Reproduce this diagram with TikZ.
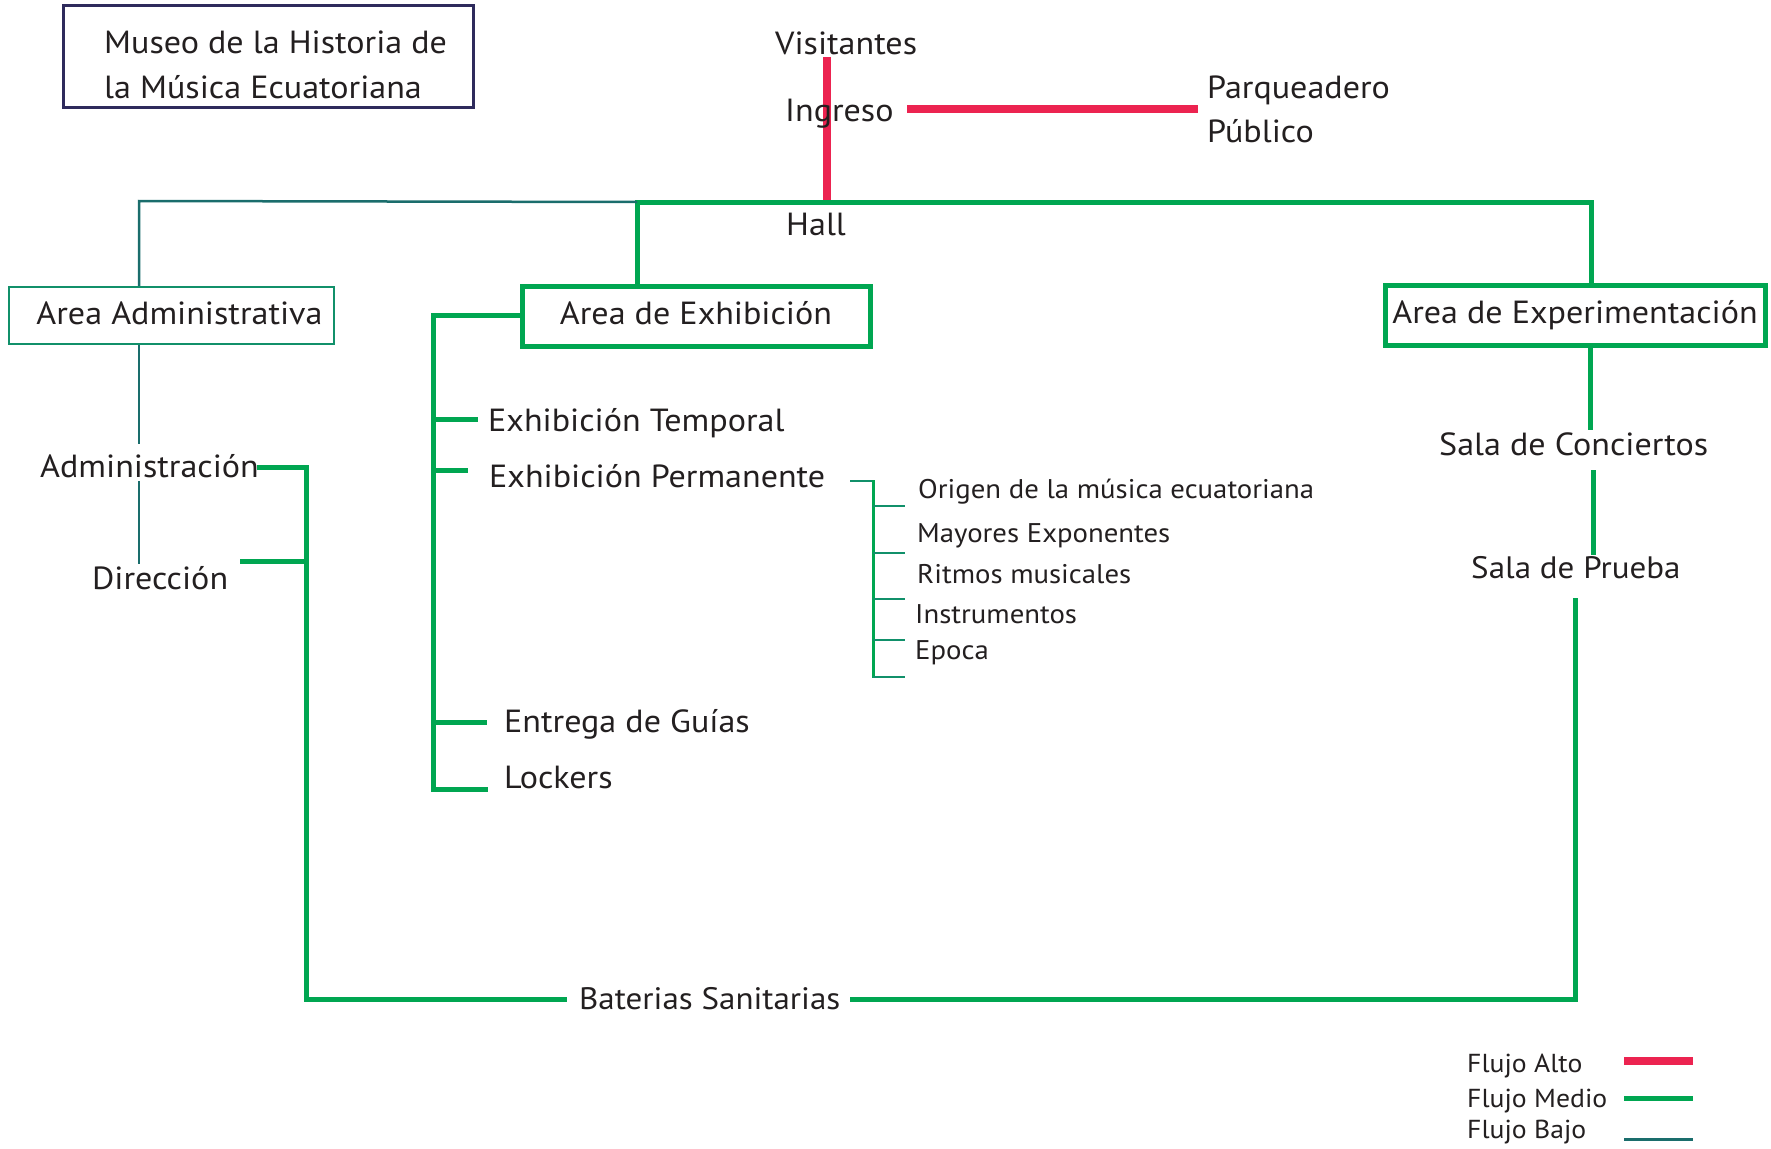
\documentclass[tikz,border=0pt]{standalone}
\usepackage{fontspec}
\setmainfont{PT Sans}[FakeStretch=1.065]
\definecolor{alto}{HTML}{EC2350}
\definecolor{medio}{HTML}{00A651}
\definecolor{bajo}{HTML}{1A6D6C}
\definecolor{subg}{HTML}{11906A}
\definecolor{navy}{HTML}{2E2A5C}
\definecolor{textc}{HTML}{231F20}
\begin{document}
\begin{tikzpicture}[x=1pt,y=-1pt,
  txt/.style={inner sep=0pt,anchor=base west,text=textc,font=\fontsize{32}{38}\selectfont},
  narrowtxt/.style={txt,font=\fontsize{31}{37}\selectfont},
  smalltxt/.style={txt,font=\fontsize{27}{32}\selectfont},
  legtxt/.style={txt,font=\fontsize{26}{30}\selectfont},
  areabox/.style={draw,inner sep=0pt,text height=23pt,text depth=6pt,text=textc,font=\fontsize{32}{38}\selectfont},
  flalto/.style={draw=alto,line width=8pt},
  flmedio/.style={draw=medio,line width=5pt},
  flbajo/.style={draw=bajo,line width=2.5pt},
  flsub/.style={draw=subg,line width=2.5pt}]
\useasboundingbox (0,0) rectangle (1771,1148);
% title
\node[draw=navy,line width=2.5pt,minimum width=410pt,minimum height=102pt,inner sep=0pt] (title) at (268.5,56.5) {};
\node[txt] (t1) at (104,53) {Museo de la Historia de};
\node[txt] (t2) at (104,98) {la Música Ecuatoriana};
% top texts
\node[txt] (vis) at (775,55) {Visitantes};
\node[txt] (parq1) at (1207,98) {Parqueadero};
\node[txt] (parq2) at (1207,142) {Público};
\node[txt] (hall) at (786,235) {Hall};
% coordinates for flows
\coordinate (rtop) at (827,57);
\coordinate (rbot) at (827,200);
\coordinate (hL) at (637,202);
\coordinate (hR) at (1591,202);
\coordinate (tL) at (139,201);
% red flow
\draw[flalto] (rtop) -- (rbot);
\draw[flalto] (907,109) coordinate (ingE) -- (1198,109) coordinate (parqW);
\node[txt] (ingreso) at (785,121) {Ingreso};
% boxes
\node[areabox,draw=subg,line width=2.5pt,minimum width=325pt,minimum height=57pt] (adm) at (171.5,315.5) {\hspace*{16pt}Area Administrativa};
\node[areabox,draw=medio,line width=5pt,minimum width=348pt,minimum height=60pt] (exh) at (696,316) {Area de Exhibición};
\node[areabox,draw=medio,line width=5pt,minimum width=380pt,minimum height=60pt] (exp) at (1575,315) {Area de Experimentación};
% hall connections
\draw[flmedio] (exh.north -| hL) -- (hL) -- (hR) -- (exp.north -| hR);
\draw[flbajo] (adm.north -| tL) -- (tL) -- (hL);
% administrative
\node[txt] (admin) at (40,477) {Administración};
\node[txt] (dir) at (92,589) {Dirección};
\draw[flbajo] (adm.south -| tL) -- (139,444) coordinate (a1);
\draw[flbajo] (139,481) coordinate (a2) -- (139,564) coordinate (a3);
% exhibition
\node[txt] (et) at (488,431) {Exhibición Temporal};
\node[txt] (ep) at (489,487) {Exhibición Permanente};
\node[txt] (eg) at (504,732) {Entrega de Guías};
\node[txt] (lk) at (504,788) {Lockers};
\draw[flmedio] (exh.west |- 0,315) coordinate (eW) -- (433,315) coordinate (eb) -- (433,789) -- (488,789) coordinate (lkW);
\draw[flmedio] (433,419) -- (478,419) coordinate (etW);
\draw[flmedio] (433,470) -- (468,470) coordinate (epW);
\draw[flmedio] (433,722) -- (487,722) coordinate (egW);
% permanent sub items
\node[smalltxt] (s1) at (918,498) {Origen de la música ecuatoriana};
\node[smalltxt] (s2) at (917,542) {Mayores Exponentes};
\node[smalltxt] (s3) at (917,583) {Ritmos musicales};
\node[smalltxt] (s4) at (915,623) {Instrumentos};
\node[smalltxt] (s5) at (915,659) {Epoca};
\draw[flsub] (850,481) coordinate (epE) -- (873,481);
\draw[draw=medio,line width=3pt] (873,480) -- (873,678);
\foreach \yy in {506,553,599,640,677} \draw[flsub] (873,\yy) -- (905,\yy);
% experimentation
\node[txt] (sc) at (1439,455) {Sala de Conciertos};
\node[narrowtxt] (sp) at (1471,578) {Sala de Prueba};
\draw[flmedio] (exp.south -| 1590,0) -- (1590,430) coordinate (scN);
\draw[flmedio] (1593,470) coordinate (scS) -- (1593,555) coordinate (spN);
% sanitary
\node[narrowtxt] (bs) at (579,1009) {Baterias Sanitarias};
\draw[flmedio] (257,467) coordinate (adE) -- (306,467) -- (306,999) -- (567,999) coordinate (bsW);
\draw[flmedio] (240,561) coordinate (dirE) -- (306,561);
\draw[flmedio] (850,999) coordinate (bsE) -- (1575,999) -- (1575,598) coordinate (spS);
% legend
\node[legtxt] (la) at (1467,1072) {Flujo Alto};
\node[legtxt] (lm) at (1467,1107) {Flujo Medio};
\node[legtxt] (lb) at (1467,1138) {Flujo Bajo};
\draw[flalto] (1624,1061) coordinate (la1) -- (1693,1061) coordinate (la2);
\draw[flmedio] (1624,1098) coordinate (lm1) -- (1693,1098) coordinate (lm2);
\draw[flbajo,line width=3pt] (1624,1139) coordinate (lb1) -- (1693,1139) coordinate (lb2);
\end{tikzpicture}
\end{document}
